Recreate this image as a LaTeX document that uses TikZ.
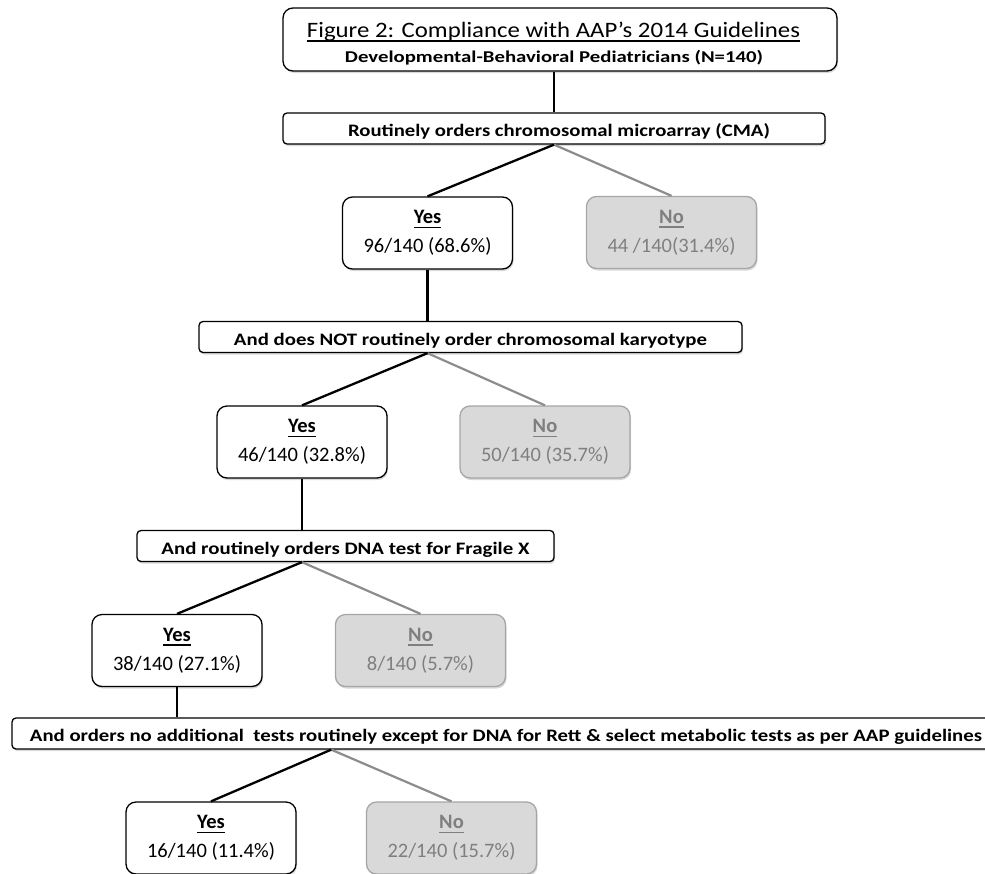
\documentclass[tikz,border=0pt]{standalone}
\usepackage{fontspec}
\setmainfont{Carlito}
\usetikzlibrary{shadows,calc}

\definecolor{nofill}{HTML}{D9D9D9}
\definecolor{noborder}{HTML}{A6A6A6}
\definecolor{notext}{HTML}{7F7F7F}
\definecolor{nogray}{HTML}{8C8C8C}

% underline that sits close to the baseline
\newcommand{\undl}[1]{{\setbox0=\hbox{#1}\rlap{\rule[-0.21em]{\wd0}{0.07em}}\box0}}
% stretch a text to a given width, keeping its height
\newcommand{\fitto}[2]{\resizebox{#1}{\height}{#2}}

\tikzset{
  boxshadow/.style={drop shadow={shadow xshift=1pt, shadow yshift=-2pt, opacity=0.25, fill=black!60}},
  titlebox/.style={draw, line width=1.3pt, rounded corners=10pt, fill=white, boxshadow, minimum width=554pt, minimum height=63pt},
  stepbox/.style={draw, line width=1.3pt, rounded corners=4pt, fill=white, boxshadow, inner sep=0pt,
    minimum height=31pt, text height=16pt, text depth=0pt, font=\fontsize{17.5}{20}\selectfont\bfseries},
  yesbox/.style={draw, line width=1.3pt, rounded corners=10pt, fill=white, boxshadow, inner sep=0pt,
    minimum width=170pt, minimum height=72pt, align=center, font=\fontsize{20.5}{29}\selectfont},
  nobox/.style={yesbox, draw=noborder, fill=nofill, text=notext},
  yesline/.style={line width=2.3pt, black},
  noline/.style={line width=2.2pt, nogray},
}

\begin{document}
\begin{tikzpicture}[x=1pt, y=-1pt]
  \useasboundingbox (0,0) rectangle (985,873);

  % header
  \node[titlebox] (title) at (560,39.5) {};
  \node[anchor=base, font=\fontsize{22}{22}\selectfont] (titletext) at (553.5,37)
    {\undl{\fitto{493pt}{Figure 2: Compliance with AAP’s 2014 Guidelines}}};
  \node[anchor=base, font=\fontsize{16.5}{17}\selectfont\bfseries] (subtitle) at (554,62)
    {\fitto{418pt}{Developmental-Behavioral Pediatricians (N=140)}};

  % questions
  \node[stepbox, minimum width=542pt] (cma) at (554,128.5)
    {\hspace{10pt}\fitto{422pt}{Routinely orders chromosomal microarray (CMA)}};
  \node[stepbox, minimum width=543pt] (karyo) at (470.5,337)
    {\fitto{473pt}{And does NOT routinely order chromosomal karyotype}};
  \node[stepbox, minimum width=417pt] (fragx) at (345.5,546)
    {\fitto{368pt}{And routinely orders DNA test for Fragile X}\hspace{12pt}};
  \node[stepbox, minimum width=988pt] (rett) at (506,733.5)
    {\fitto{952pt}{And orders no additional~ tests routinely except for DNA for Rett \& select metabolic tests as per AAP guidelines}\hspace{18pt}};

  % answers
  \node[yesbox] (yes1) at (427.5,233) {\undl{\textbf{Yes}}\\96/140 (68.6\%)};
  \node[nobox] (no1) at (671.5,232.5) {\undl{\textbf{No}}\\44 /140(31.4\%)};
  \node[yesbox] (yes2) at (302,442) {\undl{\textbf{Yes}}\\46/140 (32.8\%)};
  \node[nobox] (no2) at (545,442) {\undl{\textbf{No}}\\50/140 (35.7\%)};
  \node[yesbox] (yes3) at (177,650.5) {\undl{\textbf{Yes}}\\38/140 (27.1\%)};
  \node[nobox] (no3) at (420.5,650.5) {\undl{\textbf{No}}\\8/140 (5.7\%)};
  \node[yesbox] (yes4) at (211,838) {\undl{\textbf{Yes}}\\16/140 (11.4\%)};
  \node[nobox] (no4) at (451.5,838) {\undl{\textbf{No}}\\22/140 (15.7\%)};

  % split points
  \coordinate (split1) at (cma.south);
  \coordinate (split2) at (yes1.south |- karyo.south);
  \coordinate (split3) at (yes2.south |- fragx.south);
  \coordinate (mid4) at ($(yes4.north)!0.5!(no4.north)$);
  \coordinate (split4) at (mid4 |- rett.south);

  % stems
  \draw[yesline] (title.south -| cma.north) -- (cma.north);
  \draw[yesline] (yes1.south) -- (yes1.south |- karyo.north);
  \draw[yesline] (yes2.south) -- (yes2.south |- fragx.north);
  \draw[yesline] (yes3.south) -- (yes3.south |- rett.north);

  % branches
  \draw[noline] (split1) -- (no1.north);
  \draw[yesline] (split1) -- (yes1.north);
  \draw[noline] (split2) -- (no2.north);
  \draw[yesline] (split2) -- (yes2.north);
  \draw[noline] (split3) -- (no3.north);
  \draw[yesline] (split3) -- (yes3.north);
  \draw[noline] (split4) -- (no4.north);
  \draw[yesline] (split4) -- (yes4.north);
\end{tikzpicture}
\end{document}
